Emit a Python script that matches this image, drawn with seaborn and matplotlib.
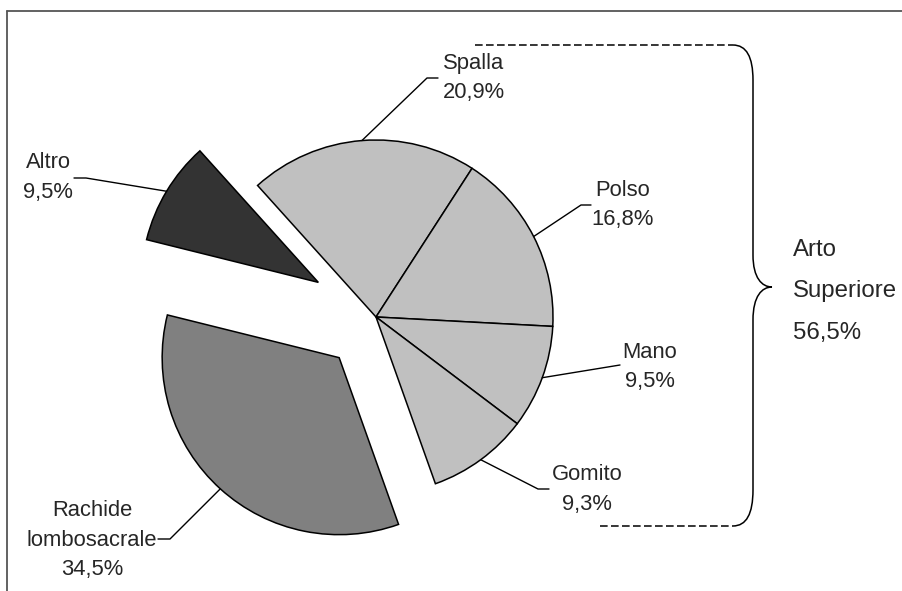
import numpy as np
import matplotlib
matplotlib.use("Agg")
import matplotlib.pyplot as plt
from matplotlib.path import Path
from matplotlib.patches import PathPatch
import seaborn as sns

# data
categories = ["Spalla", "Polso", "Mano", "Gomito", "Rachide\nlombosacrale", "Altro"]
values = [20.9, 16.8, 9.5, 9.3, 34.5, 9.5]
pct_labels = ["20,9%", "16,8%", "9,5%", "9,3%", "34,5%", "9,5%"]
group_name = ["Arto", "Superiore"]
group_pct = "56,5%"

colors = ["#c0c0c0", "#c0c0c0", "#c0c0c0", "#c0c0c0", "#808080", "#333333"]

W, H = 902, 591
sns.set_theme(style="white")
plt.rcParams["font.family"] = ["Liberation Sans", "DejaVu Sans"]

fig = plt.figure(figsize=(W / 100, H / 100), dpi=100)
ax = fig.add_axes([0, 0, 1, 1])

# pie in pixel units (y measured upward)
radius = 177
center = (376, H - 317)
explode = [0, 0, 0, 0, 0.31 * radius, 0.38 * radius]
wedges, _ = ax.pie(values, startangle=132, counterclock=False, colors=colors,
                   explode=explode, radius=radius, center=center,
                   wedgeprops=dict(edgecolor="black", linewidth=1.1))

ax.set_xlim(0, W)
ax.set_ylim(0, H)
ax.set_aspect("equal")
ax.axis("off")


def Y(y):
    return H - y


# label layout: (elbow x, elbow y, line end x, text center x, first line y)
layout = [
    (427, 78, 438, 474, 63),
    (581, 205, 591, 623, 190),
    (620, 365, 620, 650, 352),
    (538, 489, 549, 587, 475),
    (170, 539, 158, 92, 511),
    (86, 178, 74, 48, 163),
]
fs = 15.8
gap = 29.5
for w, cat, pct, (ex, ey, lx, tx, ty) in zip(wedges, categories, pct_labels, layout):
    th = np.deg2rad((w.theta1 + w.theta2) / 2)
    cx, cy = w.center
    sx, sy = cx + w.r * np.cos(th), cy + w.r * np.sin(th)
    ax.plot([sx, ex, lx], [sy, Y(ey), Y(ey)], color="black", lw=1.0)
    lines = cat.split("\n") + [pct]
    for i, t in enumerate(lines):
        ax.text(tx, Y(ty + i * gap), t, ha="center", va="center", fontsize=fs)

# brace for upper limb group
verts = [(733, 45), (753, 45), (753, 80),
         (753, 255),
         (753, 278), (762, 287), (772, 287),
         (762, 287), (753, 296), (753, 320),
         (753, 490),
         (753, 526), (733, 526)]
codes = [Path.MOVETO, Path.CURVE3, Path.CURVE3,
         Path.LINETO,
         Path.CURVE4, Path.CURVE4, Path.CURVE4,
         Path.CURVE4, Path.CURVE4, Path.CURVE4,
         Path.LINETO,
         Path.CURVE3, Path.CURVE3]
brace = Path([(x, Y(y)) for x, y in verts], codes)
ax.add_patch(PathPatch(brace, facecolor="none", edgecolor="black", lw=1.1))
ax.plot([475, 733], [Y(45), Y(45)], color="black", lw=1.1, dashes=(5, 2.2))
ax.plot([600, 733], [Y(526), Y(526)], color="black", lw=1.1, dashes=(5, 2.2))

for i, t in enumerate(group_name + [group_pct]):
    ax.text(793, Y(250 + i * 41.5), t, ha="left", va="center", fontsize=17.3)

# outer frame (only top and left edges visible)
ax.plot([7, W], [Y(11), Y(11)], color="#555555", lw=1.3)
ax.plot([7, 7], [Y(11), 0], color="#555555", lw=1.3)

fig.savefig("out.png", dpi=100)
